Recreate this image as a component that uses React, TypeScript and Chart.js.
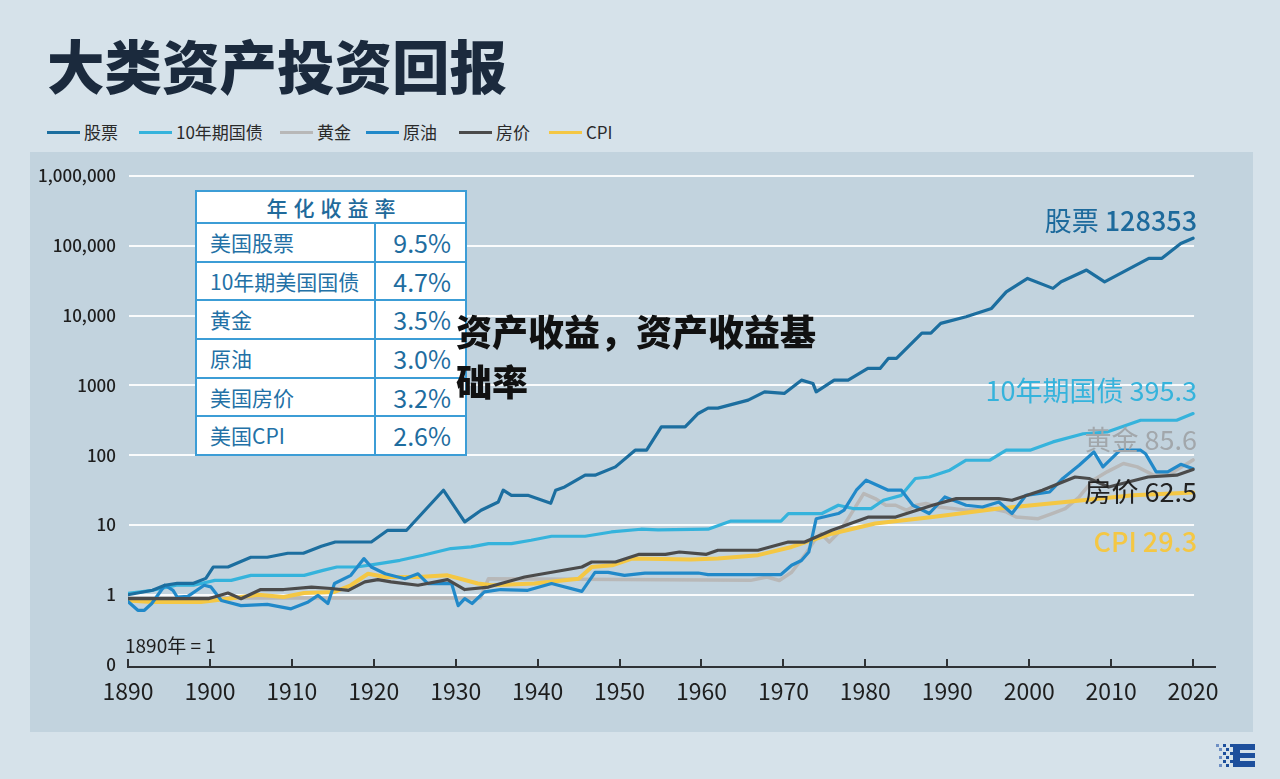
import React, { useEffect, useRef } from "react";
import { Chart, registerables } from "chart.js";

Chart.register(...registerables);

const FONT = '"Noto Sans CJK SC", "Noto Sans", sans-serif';

const chartTitle = "大类资产投资回报";
const overlayText = "资产收益，资产收益基础率";
const baseNote = "1890年 = 1";

const seriesNames = ["股票", "10年期国债", "黄金", "原油", "房价", "CPI"];
const seriesColors = ["#1c6e9f", "#35b3dc", "#b8b8b8", "#2189c9", "#4b4b4b", "#f4c744"];
const seriesOrder = [0, 3, 5, 2, 1, 4];
const seriesWidths = [3.2, 3.2, 3.5, 3.2, 3.2, 4];
const endLabelNames = ["股票", "10年期国债", "黄金", "房价", "CPI"];
const endLabelValues = ["128353", "395.3", "85.6", "62.5", "29.3"];
const endLabelColors = ["#1d6a9c", "#35b3dc", "#a2a7ab", "#222222", "#f4c744"];

const stockYears = [1890, 1893, 1894.5, 1896, 1898, 1899.5, 1900.4, 1902.2, 1905, 1907, 1909.5, 1911.4, 1913.6, 1915.3, 1919.7, 1921.7, 1924, 1928.5, 1931.1, 1933.1, 1935.2, 1935.8, 1936.8, 1938.8, 1941.6, 1942.2, 1943.3, 1945.8, 1947, 1949.5, 1951.9, 1953.3, 1955.1, 1958, 1959.6, 1960.8, 1962, 1965.7, 1967.7, 1970.1, 1972.2, 1973.6, 1974, 1976.2, 1977.9, 1980.3, 1981.8, 1982.8, 1983.8, 1986.9, 1988, 1989.2, 1992.3, 1995.4, 1997.2, 1999.8, 2002.9, 2003.9, 2007, 2009.2, 2012.3, 2014.6, 2016.2, 2018.5, 2020];
const stockValues = [1, 1.16, 1.37, 1.46, 1.46, 1.72, 2.5, 2.5, 3.45, 3.45, 3.94, 3.94, 4.96, 5.71, 5.71, 8.4, 8.4, 31.5, 11.1, 16.3, 21.4, 31.5, 26.6, 26.6, 20.5, 31.5, 35.1, 51.7, 51.7, 68, 118, 118, 255, 255, 396, 472, 472, 615, 809, 767, 1189, 1067, 809, 1189, 1189, 1750, 1750, 2434, 2434, 5610, 5610, 7730, 9610, 12680, 21900, 34100, 24550, 30500, 44900, 30500, 47500, 66100, 66100, 108000, 128353];

const bondYears = [1890, 1893, 1895.9, 1898, 1900.6, 1902.6, 1905, 1911.5, 1913.8, 1915.5, 1917.9, 1920.7, 1923.2, 1926, 1929.4, 1931.9, 1934, 1936.8, 1939.2, 1941.7, 1945.8, 1949, 1952.6, 1954.7, 1960.8, 1963.6, 1969.7, 1970.6, 1974.7, 1976.7, 1978.5, 1980.7, 1982.2, 1984.4, 1986.1, 1987.8, 1990.3, 1992.3, 1995.2, 1997.2, 2000.1, 2002.9, 2006.6, 2009.5, 2013.6, 2018, 2020];
const bondValues = [1.05, 1.16, 1.37, 1.37, 1.61, 1.61, 1.9, 1.9, 2.24, 2.5, 2.5, 2.8, 3.12, 3.68, 4.6, 4.85, 5.4, 5.4, 6.04, 6.9, 6.9, 7.95, 8.7, 8.5, 8.7, 11.4, 11.4, 14.6, 14.6, 19.2, 17.2, 17.2, 22.6, 26.6, 46.4, 48.7, 60.9, 84.7, 84.7, 118, 118, 155, 203, 215, 317, 317, 395.3];

const goldYears = [1890, 1933, 1934, 1966, 1968, 1969.5, 1971, 1972.6, 1973.8, 1974.6, 1975.6, 1977, 1978.3, 1979.8, 1981.2, 1982.5, 1983.7, 1985, 1986.2, 1987.4, 1989, 1990.6, 1992.3, 1995.4, 1997.2, 1998.4, 2001.1, 2002.8, 2004.4, 2006.1, 2007.8, 2009.5, 2011.5, 2013.2, 2015.2, 2017.3, 2020];
const goldValues = [0.9, 0.9, 1.7, 1.61, 1.8, 1.6, 2.1, 3.7, 6.0, 7.5, 5.7, 8.4, 14.7, 28.2, 23.9, 19.2, 19.2, 16.3, 19.2, 20.3, 18.1, 17.2, 16.3, 17.2, 15.4, 13.0, 12.3, 14.6, 17.2, 25.2, 43.8, 57.7, 76, 68, 51.7, 54.5, 85.6];

const oilYears = [1890, 1891.2, 1892, 1892.9, 1894.5, 1895.5, 1896, 1897.3, 1899.3, 1900.1, 1901.4, 1903.8, 1907, 1909.9, 1912, 1913.2, 1914.4, 1915.2, 1917.2, 1918.8, 1919.7, 1921.4, 1923.8, 1925.4, 1926.6, 1929.5, 1930.3, 1931.1, 1932, 1933.5, 1935.5, 1938.8, 1941.7, 1945.4, 1947, 1948.6, 1950.6, 1953.1, 1959.6, 1960.8, 1969.7, 1971, 1972.2, 1973.1, 1974, 1976.7, 1977.4, 1978.9, 1980.1, 1982.8, 1984.4, 1985.8, 1987.8, 1989.7, 1992.3, 1994.3, 1996.3, 1997.9, 1999.6, 2002.5, 2004.1, 2006.1, 2007.9, 2009, 2011.1, 2013.6, 2014.2, 2015.5, 2016.9, 2018.5, 2020];
const oilValues = [0.8, 0.6, 0.6, 0.75, 1.37, 1.16, 0.93, 0.95, 1.37, 1.3, 0.83, 0.7, 0.73, 0.63, 0.79, 0.98, 0.75, 1.45, 1.9, 3.3, 2.5, 2.0, 1.7, 2.0, 1.45, 1.45, 0.7, 0.88, 0.75, 1.1, 1.19, 1.16, 1.45, 1.12, 2.1, 2.1, 1.9, 2.05, 2.05, 1.95, 1.95, 2.65, 3.1, 4.1, 12.3, 14.6, 16.3, 31.5, 43.8, 31.5, 31.5, 19.2, 14.6, 25.2, 19.2, 18.1, 21.4, 14.6, 26.6, 29.7, 46.4, 71.8, 111, 68, 118, 118, 105, 57.7, 57.7, 74, 64];

const houseYears = [1890, 1899.8, 1902.2, 1903.8, 1906.2, 1909, 1912.4, 1914.8, 1916.9, 1918.9, 1920.5, 1922.1, 1925.4, 1929, 1931.1, 1934, 1938.4, 1945.4, 1946.6, 1949.5, 1952.4, 1955.6, 1957.3, 1960.6, 1962, 1966.9, 1970.6, 1972.6, 1975.9, 1980.4, 1983.7, 1988.2, 1991.1, 1996.3, 1997.9, 2001.6, 2005.6, 2007.3, 2009.7, 2014.5, 2018, 2020];
const houseValues = [0.88, 0.88, 1.06, 0.88, 1.19, 1.19, 1.29, 1.23, 1.16, 1.53, 1.65, 1.53, 1.37, 1.65, 1.19, 1.29, 1.8, 2.5, 2.95, 2.95, 3.8, 3.8, 4.1, 3.8, 4.35, 4.35, 5.7, 5.7, 8.4, 13, 13, 19.2, 23.9, 23.9, 22.6, 31.5, 48.7, 46.4, 35, 48.7, 51.7, 62.5];

const cpiYears = [1890, 1892.9, 1898.9, 1902.2, 1905.9, 1909, 1911.5, 1915.2, 1917.2, 1919.3, 1921.4, 1925.4, 1929, 1932.7, 1934.4, 1939.6, 1945, 1946.6, 1949.1, 1951.5, 1958.7, 1962, 1966.9, 1971, 1975.9, 1981.2, 1988.2, 1996.3, 2004.4, 2012.7, 2020];
const cpiValues = [0.83, 0.79, 0.79, 0.88, 1.0, 0.93, 1.06, 1.1, 1.37, 2.0, 1.8, 1.8, 1.9, 1.45, 1.37, 1.45, 1.7, 2.5, 2.65, 3.3, 3.2, 3.3, 3.7, 4.85, 7.5, 10.5, 13, 17.2, 21.4, 26.6, 29.3];

const xTickYears = [1890, 1900, 1910, 1920, 1930, 1940, 1950, 1960, 1970, 1980, 1990, 2000, 2010, 2020];
const yTickValues = [0.1, 1, 10, 100, 1000, 10000, 100000, 1000000];
const yTickLabels = ["0", "1", "10", "100", "1000", "10,000", "100,000", "1,000,000"];

const tableTitle = "年化收益率";
const tableAssets = ["美国股票", "10年期美国国债", "黄金", "原油", "美国房价", "美国CPI"];
const tableReturns = ["9.5%", "4.7%", "3.5%", "3.0%", "3.2%", "2.6%"];

const allYears = [stockYears, bondYears, goldYears, oilYears, houseYears, cpiYears];
const allValues = [stockValues, bondValues, goldValues, oilValues, houseValues, cpiValues];

const gridPlugin = {
  id: "customGrid",
  beforeDatasetsDraw(chart: any) {
    const { ctx } = chart;
    const xs = chart.scales.x;
    const ys = chart.scales.y;
    const x0 = xs.getPixelForValue(1890) + 1;
    const x1 = xs.getPixelForValue(2020) + 1;
    ctx.save();
    ctx.strokeStyle = "rgba(255,255,255,0.9)";
    ctx.lineWidth = 2;
    yTickValues.slice(1).forEach((v) => {
      const y = Math.round(ys.getPixelForValue(v));
      ctx.beginPath();
      ctx.moveTo(x0, y);
      ctx.lineTo(x1, y);
      ctx.stroke();
    });
    ctx.restore();
  },
};

const axisPlugin = {
  id: "customAxis",
  afterDatasetsDraw(chart: any) {
    const { ctx, chartArea } = chart;
    const xs = chart.scales.x;
    const ys = chart.scales.y;
    const y = Math.round(ys.getPixelForValue(0.1)) + 2;
    ctx.save();
    ctx.strokeStyle = "#2e3236";
    ctx.lineWidth = 2;
    ctx.beginPath();
    ctx.moveTo(xs.getPixelForValue(1890) - 1, y);
    ctx.lineTo(chartArea.right, y);
    ctx.stroke();
    xTickYears.forEach((yr) => {
      const x = Math.round(xs.getPixelForValue(yr));
      ctx.beginPath();
      ctx.moveTo(x, y);
      ctx.lineTo(x, y - 8);
      ctx.stroke();
    });
    ctx.fillStyle = "#1e1e1e";
    ctx.font = `19px ${FONT}`;
    ctx.textAlign = "left";
    ctx.textBaseline = "middle";
    ctx.fillText(baseNote, xs.getPixelForValue(1890) - 3, y - 21);

    const rx = xs.getPixelForValue(2020) + 4;
    const ysPos = [221, 391, 440, 492, 542];
    endLabelNames.forEach((name, i) => {
      const valFont = i === 0 || i === 4 ? `500 27px ${FONT}` : `27px ${FONT}`;
      const nameFont = i === 4 ? `500 27px ${FONT}` : `27px ${FONT}`;
      ctx.fillStyle = endLabelColors[i];
      ctx.textAlign = "right";
      ctx.font = valFont;
      ctx.fillText(endLabelValues[i], rx, ysPos[i]);
      const w = ctx.measureText(endLabelValues[i]).width;
      ctx.font = nameFont;
      ctx.fillText(name + " ", rx - w, ysPos[i]);
    });
    ctx.restore();
  },
};

function App() {
  const canvasRef = useRef<HTMLCanvasElement | null>(null);

  useEffect(() => {
    const canvas = canvasRef.current;
    if (!canvas) return;
    const datasets = seriesNames.map((name, i) => ({
      label: name,
      data: allYears[i].map((yr, k) => ({ x: yr, y: allValues[i][k] })),
      borderColor: seriesColors[i],
      backgroundColor: seriesColors[i],
      borderWidth: seriesWidths[i],
      pointRadius: 0,
      tension: 0,
      fill: false,
      order: seriesOrder[i],
      borderJoinStyle: "round" as const,
      borderCapStyle: "round" as const,
    }));
    const chart = new Chart(canvas, {
      type: "line",
      data: { datasets },
      options: {
        animation: false,
        responsive: false,
        maintainAspectRatio: false,
        devicePixelRatio: 1,
        layout: { padding: { left: 0, top: 176, right: 64, bottom: 74.4 } },
        plugins: {
          legend: { display: false },
          tooltip: { enabled: false },
          title: { display: false },
        },
        scales: {
          x: {
            type: "linear",
            min: 1890,
            max: 2022.8,
            afterFit: (s: any) => {
              s.height = 40;
            },
            afterBuildTicks: (s: any) => {
              s.ticks = xTickYears.map((v) => ({ value: v }));
            },
            grid: { display: false, drawTicks: false },
            border: { display: false },
            ticks: {
              autoSkip: false,
              maxRotation: 0,
              padding: 13,
              color: "#1e1e1e",
              font: { family: FONT, size: 23 },
              callback: (v: any) => String(v),
            },
          },
          y: {
            type: "logarithmic",
            min: 0.1,
            max: 1000000,
            afterFit: (s: any) => {
              s.width = 128;
            },
            afterBuildTicks: (s: any) => {
              s.ticks = yTickValues.map((v) => ({ value: v }));
            },
            grid: { display: false, drawTicks: false },
            border: { display: false },
            ticks: {
              autoSkip: false,
              padding: 12,
              color: "#1e1e1e",
              font: { family: FONT, size: 17, weight: "500" as any },
              callback: (v: any) => {
                const idx = yTickValues.findIndex((t) => Math.abs(t - Number(v)) < 1e-9 * Math.max(1, t));
                return idx >= 0 ? yTickLabels[idx] : "";
              },
            },
          },
        },
      },
      plugins: [gridPlugin, axisPlugin],
    });
    return () => chart.destroy();
  }, []);

  const legendLefts = [47, 139, 280, 366, 459, 549];
  const rowH = 36.7;

  return (
    <div
      style={{
        position: "fixed",
        left: 0,
        top: 0,
        width: 1280,
        height: 779,
        background: "#d6e2ea",
        overflow: "hidden",
        fontFamily: FONT,
      }}
    >
      <div
        style={{
          position: "absolute",
          left: 47,
          top: 36,
          fontSize: 57.5,
          lineHeight: "57px",
          fontWeight: 900,
          color: "#1b2a3d",
          whiteSpace: "nowrap",
        }}
      >
        {chartTitle}
      </div>

      {seriesNames.map((name, i) => (
        <div key={name}>
          <div
            style={{
              position: "absolute",
              left: legendLefts[i],
              top: 130.5,
              width: 33,
              height: 3.5,
              background: seriesColors[i],
            }}
          />
          <div
            style={{
              position: "absolute",
              left: legendLefts[i] + 37,
              top: 121,
              height: 22,
              lineHeight: "22px",
              fontSize: 17,
              color: "#2a2a2a",
              whiteSpace: "nowrap",
            }}
          >
            {name}
          </div>
        </div>
      ))}

      <div
        style={{
          position: "absolute",
          left: 30,
          top: 152,
          width: 1223,
          height: 580,
          background: "#c2d3de",
        }}
      />

      <canvas
        ref={canvasRef}
        width={1280}
        height={779}
        style={{ position: "absolute", left: 0, top: 0, width: 1280, height: 779, display: "block" }}
      />

      <div
        style={{
          position: "absolute",
          left: 195,
          top: 190,
          width: 272,
          boxSizing: "border-box",
          border: "2px solid #3c9dd6",
          background: "#ffffff",
        }}
      >
        <div
          style={{
            height: 30,
            lineHeight: "30px",
            textAlign: "center",
            fontSize: 21,
            fontWeight: 500,
            letterSpacing: 6,
            paddingLeft: 6,
            color: "#1f6a9b",
            borderBottom: "2px solid #3c9dd6",
          }}
        >
          {tableTitle}
        </div>
        {tableAssets.map((a, i) => (
          <div
            key={a}
            style={{
              display: "flex",
              height: rowH,
              borderBottom: i < tableAssets.length - 1 ? "2px solid #3c9dd6" : "none",
            }}
          >
            <div
              style={{
                width: 177,
                paddingLeft: 13,
                boxSizing: "border-box",
                fontSize: 21,
                lineHeight: `${rowH}px`,
                color: "#2371a6",
                whiteSpace: "nowrap",
              }}
            >
              {a}
            </div>
            <div
              style={{
                flex: 1,
                borderLeft: "2px solid #3c9dd6",
                textAlign: "right",
                paddingRight: 14,
                fontSize: 25,
                lineHeight: `${rowH}px`,
                color: "#1f6d9f",
              }}
            >
              {tableReturns[i]}
            </div>
          </div>
        ))}
      </div>

      <div
        style={{
          position: "absolute",
          left: 456,
          top: 305,
          width: 372,
          fontSize: 36,
          lineHeight: "50px",
          fontWeight: 900,
          color: "#111111",
        }}
      >
        {overlayText}
      </div>

      <div style={{ position: "absolute", left: 1233, top: 744, width: 22, height: 23, background: "#1d4f9c" }} />
      <div style={{ position: "absolute", left: 1240, top: 750, width: 15, height: 3, background: "#d6e2ea" }} />
      <div style={{ position: "absolute", left: 1240, top: 758, width: 15, height: 3, background: "#d6e2ea" }} />
      {[0, 1, 2, 3, 4, 5].map((r) =>
        [0, 1, 2, 3, 4].map((c) =>
          (r + c) % 2 === 0 && c + (r === 0 || r === 5 ? 1 : 0) > 0 ? (
            <div
              key={`${r}-${c}`}
              style={{
                position: "absolute",
                left: 1216 + c * 3.4,
                top: 744 + r * 4,
                width: 3,
                height: 3,
                background: c < 2 ? "#6e8fc4" : "#1d4f9c",
              }}
            />
          ) : null
        )
      )}
    </div>
  );
}

export default App;
